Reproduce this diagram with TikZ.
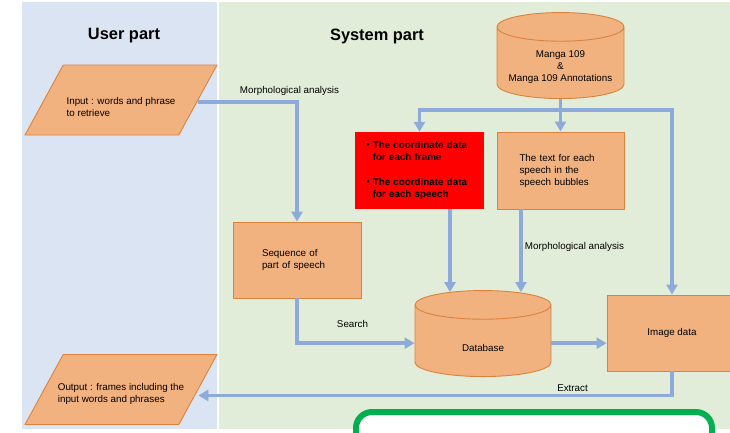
\documentclass[tikz,border=0pt]{standalone}
\usepackage{fontspec}
\setmainfont{Liberation Sans}
\newfontfamily\cjk{Noto Sans CJK JP}
\usetikzlibrary{shapes.geometric,arrows.meta,positioning}
\definecolor{userbg}{RGB}{218,228,243}
\definecolor{sysbg}{RGB}{225,237,217}
\definecolor{boxfill}{RGB}{241,178,128}
\definecolor{boxline}{RGB}{220,130,60}
\definecolor{flowc}{RGB}{142,170,219}
\definecolor{framegreen}{RGB}{0,176,80}
\begin{document}
\begin{tikzpicture}[x=1pt,y=-1pt,
        font=\fontsize{9.8}{12}\selectfont,
        box/.style={draw=boxline,fill=boxfill,rectangle,line width=0.9pt,align=left},
        store/.style={draw=boxline,fill=boxfill,cylinder,shape border rotate=90,aspect=4.3,line width=0.9pt,anchor=south},
        io/.style={draw=boxline,fill=boxfill,trapezium,trapezium left angle=61.4,trapezium right angle=118.6,line width=0.9pt,inner xsep=57.8pt,inner ysep=35pt},
        flow/.style={draw=flowc,line width=3.5pt},
        tip/.style={-{Triangle[width=11pt,length=10pt]}},
        title/.style={font=\bfseries\fontsize{16.4}{20}\selectfont}]
        \useasboundingbox (0,0) rectangle (730,432);
        %% Panels
        \fill[userbg] (22,2) rectangle (217,429);
        \fill[sysbg] (219,2) rectangle (730,429);
        \node[title] (usertitle) at (124,36) {User part};
        \node[title] (systitle) at (377,36) {System part};
        %% Input and output
        \node[io] (inp) at (121,100) {};
        \node[align=left] (inptext) at ([yshift=-7pt]inp.center) {Input : words and phrase\\ to retrieve};
        \node[io] (out) at (121,389.5) {};
        \node[align=left] (outtext) at ([yshift=-4pt]out.center) {Output : frames including the\\input words and phrases};
        %% Data stores
        \node[store,minimum width=127pt,minimum height=86pt] (manga) at (560.5,99) {};
        \node[align=center] (mangatext) at (560.5,67) {Manga 109\\\&\\Manga 109 Annotations};
        \node[store,minimum width=136pt,minimum height=86pt] (db) at (483,377) {};
        \node (dbtext) at (483,348) {Database};
        %% Boxes
        \node[fill=red,minimum width=129pt,minimum height=77pt,text width=113pt,align=left,font=\bfseries\fontsize{9.8}{12}\selectfont] (coord) at (419.5,170.5)
            {{\cjk ・}The coordinate data\\\phantom{\cjk ・}for each frame\\[13pt]{\cjk ・}The coordinate data\\\phantom{\cjk ・}for each speech};
        \node[box,minimum width=127pt,minimum height=77pt,text width=82pt] (speech) at (560.5,170.5) {The text for each\\speech in the\\speech bubbles};
        \node[box,minimum width=128pt,minimum height=76pt,text width=70pt] (seq) at (297,260) {Sequence of\\part of speech};
        \node[box,minimum width=130pt,minimum height=76pt] (img) at (672,333) {Image data};
        %% Flow
        \draw[flow,tip] ([yshift=-2pt]inp.east) -| (seq.north);
        \draw[flow] (manga.south) -- ++(0,11) coordinate (split);
        \draw[flow,tip] (split) -| (coord.north);
        \draw[flow,tip] (split) -- (speech.north);
        \draw[flow,tip] (split) -| (img.north);
        \coordinate (rdrop) at ([xshift=30.5pt]coord.south);
        \coordinate (tdrop) at ([xshift=-39.5pt]speech.south);
        \draw[flow,tip] (rdrop) -- ([yshift=-2pt]rdrop |- db.north);
        \draw[flow,tip] (tdrop) -- ([yshift=-2pt]tdrop |- db.north);
        \draw[flow,tip] (seq.south) |- (db.west);
        \draw[flow,tip] (db.east) -- (img.west |- db.east);
        \draw[flow,tip] (img.south) -- ++(0,24) coordinate (ext) -- (ext -| out.east);
        %% Labels
        \node (morph1) at (289.5,91) {Morphological analysis};
        \node (morph2) at (574.5,247) {Morphological analysis};
        \node (search) at (352.5,324) {Search};
        \node (extract) at (572.5,388) {Extract};
        %% Frame below
        \draw[framegreen,line width=6pt,rounded corners=16pt,fill=white] (356,412) rectangle (712,470);
    \end{tikzpicture}
\end{document}
